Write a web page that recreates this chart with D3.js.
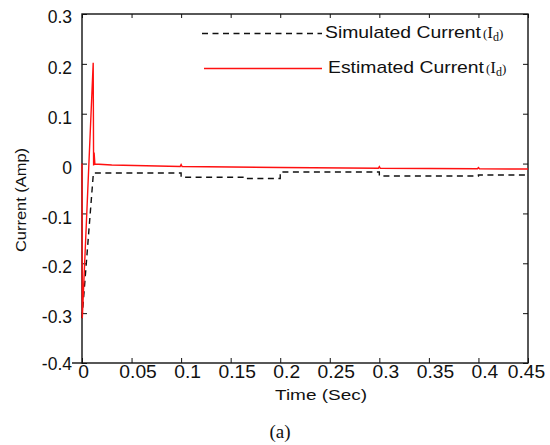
<!DOCTYPE html>
<html>
<head>
<meta charset="utf-8">
<script src="https://cdn.jsdelivr.net/npm/d3@7"></script>
<style>
  body { margin: 0; background: #fff; }
  text { font-family: "Liberation Sans", Arial, sans-serif; fill: #111; }
</style>
</head>
<body>
<script>
// data
const simT = [0, 0.0115, 0.1, 0.1, 0.165, 0.165, 0.2, 0.2, 0.3, 0.3, 0.4, 0.4, 0.45];
const simI = [-0.31, -0.019, -0.019, -0.0275, -0.0275, -0.03, -0.03, -0.017, -0.017, -0.025, -0.025, -0.023, -0.023];

const estT = [0, 0.0003, 0.0113, 0.0117, 0.0122, 0.013, 0.03, 0.099, 0.1, 0.101, 0.2, 0.299, 0.3, 0.301, 0.399, 0.4, 0.401, 0.45];
const estI = [0, -0.31, 0.202, -0.004, 0.022, -0.001, -0.003, -0.006, -0.002, -0.006, -0.008, -0.0095, -0.006, -0.0095, -0.0105, -0.008, -0.0105, -0.011];

const xTicks = [0, 0.05, 0.1, 0.15, 0.2, 0.25, 0.3, 0.35, 0.4, 0.45];
const yTicks = [-0.4, -0.3, -0.2, -0.1, 0, 0.1, 0.2, 0.3];
const seriesNames = ["Simulated Current", "Estimated Current"];

// plot box
const margin = { top: 14, right: 22, bottom: 82, left: 82 },
    width = 550 - margin.left - margin.right,   // 446
    height = 445 - margin.top - margin.bottom;  // 349

const svg = d3.select("body")
    .append("svg")
    .attr("width", 550)
    .attr("height", 445);

const g = svg.append("g")
    .attr("transform", "translate(" + margin.left + "," + margin.top + ")");

const x = d3.scaleLinear().domain([0, 0.45]).range([0, width]);
const y = d3.scaleLinear().domain([-0.4, 0.3]).range([height, 0]);

// bottom axis with inward ticks
const xAxis = g.append("g")
    .attr("transform", "translate(0," + height + ")")
    .call(d3.axisBottom(x).tickValues(xTicks).tickSize(-5).tickSizeOuter(0).tickPadding(3)
        .tickFormat(d => d === 0 ? "0" : String(+d.toFixed(2))));
xAxis.select(".domain").remove();
xAxis.selectAll("line").attr("stroke", "#111");
xAxis.selectAll("text")
    .style("font-size", "17.5px")
    .attr("transform", d => "translate(" + (d === 0 ? 1 : (d === 0.45 ? -2 : 6)) + ",0) scale(1.1,1)");

// left axis
const yAxis = g.append("g")
    .call(d3.axisLeft(y).tickValues(yTicks).tickSize(-5).tickSizeOuter(0).tickPadding(10)
        .tickFormat(d => d === 0 ? "0" : String(+d.toFixed(1))));
yAxis.select(".domain").remove();
yAxis.selectAll("line").attr("stroke", "#111");
yAxis.selectAll("text")
    .style("font-size", "17.5px")
    .attr("transform", d => "translate(0," + (d === -0.4 ? 1 : (d === 0.3 ? 2.5 : 4)) + ")");

// top and right ticks (inward)
g.append("g")
    .call(d3.axisTop(x).tickValues(xTicks).tickSize(-4).tickSizeOuter(0).tickFormat(""))
    .call(a => a.select(".domain").remove())
    .selectAll("line").attr("stroke", "#111");
g.append("g")
    .attr("transform", "translate(" + width + ",0)")
    .call(d3.axisRight(y).tickValues(yTicks).tickSize(-5).tickSizeOuter(0).tickFormat(""))
    .call(a => a.select(".domain").remove())
    .selectAll("line").attr("stroke", "#111");

// frame
g.append("rect")
    .attr("width", width)
    .attr("height", height)
    .attr("fill", "none")
    .attr("stroke", "#111")
    .attr("stroke-width", 1.4);
g.append("line")
    .attr("x1", -10).attr("x2", 0)
    .attr("y1", height).attr("y2", height)
    .attr("stroke", "#111").attr("stroke-width", 1.4);

const line = d3.line().x(d => x(d[0])).y(d => y(d[1]));

g.append("path")
    .datum(simT.map((t, i) => [t, simI[i]]))
    .attr("d", line)
    .attr("fill", "none")
    .attr("stroke", "#111")
    .attr("stroke-width", 1.4)
    .attr("stroke-dasharray", "6,4.5");

g.append("path")
    .datum(estT.map((t, i) => [t, estI[i]]))
    .attr("d", line)
    .attr("fill", "none")
    .attr("stroke", "#ff1010")
    .attr("stroke-width", 1.4);

// legend
const legend = svg.append("g").attr("id", "legend");
const legendRows = [
    { name: seriesNames[0], ly: 33.5, ty: 37.5, x1: 202, tx: 325, dash: "6,4.5", color: "#111" },
    { name: seriesNames[1], ly: 68.5, ty: 72.7, x1: 204, tx: 328, dash: null, color: "#ff1010" }
];
legendRows.forEach(r => {
    legend.append("line")
        .attr("x1", r.x1).attr("x2", 322)
        .attr("y1", r.ly).attr("y2", r.ly)
        .attr("stroke", r.color)
        .attr("stroke-width", 1.4)
        .attr("stroke-dasharray", r.dash);
    legend.append("text")
        .attr("x", r.tx).attr("y", r.ty)
        .style("font-size", "17px")
        .attr("textLength", 156)
        .attr("lengthAdjust", "spacingAndGlyphs")
        .text(r.name);
    const s = legend.append("text")
        .attr("x", r.tx + 158).attr("y", r.ty)
        .style("font-family", "'Liberation Serif', 'Times New Roman', serif");
    s.append("tspan").style("font-size", "13px").text("(");
    s.append("tspan").style("font-size", "17px").text("I");
    s.append("tspan").style("font-size", "12px").attr("dy", 3).text("d");
    s.append("tspan").style("font-size", "13px").attr("dy", -3).text(")");
});

// axis titles
svg.append("text")
    .attr("transform", "translate(26,200) rotate(-90)")
    .attr("text-anchor", "middle")
    .style("font-size", "14px")
    .attr("textLength", 104)
    .attr("lengthAdjust", "spacingAndGlyphs")
    .text("Current (Amp)");

svg.append("text")
    .attr("x", 321).attr("y", 400)
    .attr("text-anchor", "middle")
    .style("font-size", "15.5px")
    .attr("textLength", 92)
    .attr("lengthAdjust", "spacingAndGlyphs")
    .text("Time (Sec)");

svg.append("text")
    .attr("x", 280).attr("y", 438)
    .attr("text-anchor", "middle")
    .style("font-family", "'Liberation Serif', 'Times New Roman', serif")
    .style("font-size", "19px")
    .text("(a)");
</script>
</body>
</html>
